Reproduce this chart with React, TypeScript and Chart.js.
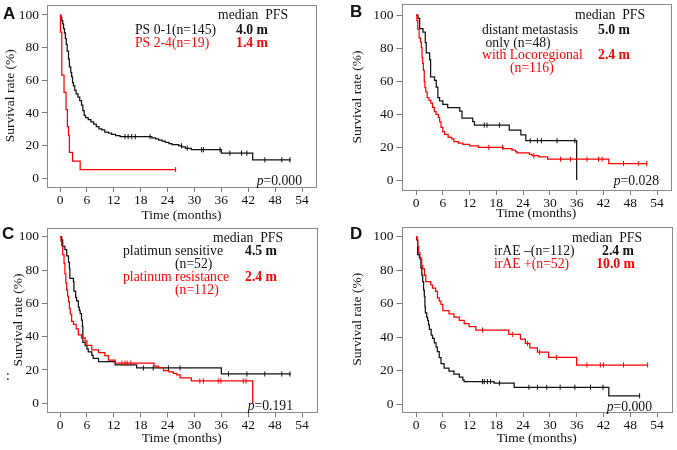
import React, { useEffect, useRef } from "react";
import { Chart, registerables } from "chart.js";
Chart.register(...registerables);

type Pt = [number, number];

const xTicks = [0, 6, 12, 18, 24, 30, 36, 42, 48, 54];
const yTicks = [0, 20, 40, 60, 80, 100];

// Panel A: PS 0-1 (black) vs PS 2-4 (red)
const psGoodKm: Pt[] = [[0,100],[0.2,98.6],[0.4,96.5],[0.6,94.5],[0.8,91.7],[1.0,89],[1.2,85.5],[1.4,82],[1.6,77.9],[1.9,73],[2.1,68.3],[2.4,64.8],[2.6,62.1],[2.8,58.6],[3.0,56.6],[3.3,53.8],[3.6,51.7],[4.0,49.7],[4.4,47.6],[4.8,44.8],[5.1,41.4],[5.4,38.6],[5.7,37.2],[6.3,35.9],[6.9,34.5],[7.5,33.1],[8.1,31.7],[8.7,30.3],[9.3,29.7],[10.0,28.3],[10.8,27.6],[11.5,26.9],[12.4,26.2],[13.4,25.5],[20.5,24.8],[21.3,24.1],[22.0,23.4],[22.8,22.7],[23.5,22.0],[24.3,21.3],[25.0,20.6],[26.5,19.9],[27.2,19.2],[28.0,18.4],[29.3,17.5],[36.0,15.4],[43.0,11.3],[51.5,11.3]];
const psGoodCens = [14.5,15.2,16.0,16.8,20.1,27.1,28.4,31.6,32.0,35.7,37.9,40.5,41.7,45.7,49.5,51.3];
const psPoorKm: Pt[] = [[0,100],[0.1,89.5],[0.4,63.2],[0.9,52.6],[1.35,42.1],[1.65,31.6],[1.9,26.3],[2.1,15.8],[2.8,10.5],[4.5,5.3],[25.8,5.3]];
const psPoorCens = [25.8];

// Panel B: distant metastasis only (black) vs with locoregional (red)
const distantKm: Pt[] = [[0,100],[0.45,97.9],[0.82,91.7],[1.56,89.6],[2.08,83.3],[2.3,77.1],[3.05,72.9],[3.27,62.5],[4.16,60.4],[4.54,56.3],[4.9,50],[5.28,47.9],[6.02,45.8],[7.1,43.8],[9.8,41.7],[10.3,37.5],[12.7,35.4],[13.1,33.3],[20.9,30.3],[23.5,27.3],[24.6,23.8],[36,0]];
const distantCens = [15.3,15.9,18.7,25.6,27.2,28.1,31.6,35.6];
const locoKm: Pt[] = [[0,100],[0.2,96.6],[0.4,91.4],[0.7,86.2],[1.0,83.6],[1.2,80.2],[1.35,74.1],[1.5,70.7],[1.65,66.4],[1.85,59.5],[2.0,56],[2.2,53.4],[2.5,50],[2.9,48.3],[3.3,46.6],[3.7,44],[4.1,41.4],[4.5,39.7],[5.0,37.9],[5.3,35.3],[5.6,31.9],[6.0,29.3],[6.4,27.6],[7.2,25.9],[8.0,25],[8.5,23.3],[9.5,22.4],[10.5,21.6],[12.0,20.7],[14.0,19.8],[19.6,19.0],[21.5,18.1],[22.3,17.2],[22.6,16.4],[25.4,15.5],[26.0,14.7],[27.5,14.0],[29.5,12.6],[43.2,10.0],[51.8,10.0]];
const locoCens = [16.3,19.4,26.4,32.4,34.6,38.3,40.9,41.7,46.5,49.8,51.7];

// Panel C: platinum sensitive (black) vs platinum resistance (red)
const sensKm: Pt[] = [[0,100],[0.37,98.1],[0.6,94.2],[1.1,92.3],[1.5,88.5],[1.9,84.6],[2.1,80.8],[2.2,75],[3.0,73.1],[3.1,67.3],[3.5,63.5],[3.7,61.5],[4.1,57.7],[4.3,55.8],[4.5,53.8],[4.8,50],[5.0,46.2],[5.1,36.5],[5.6,34.6],[6.0,32.7],[6.3,30.8],[7.1,28.8],[7.4,26.9],[8.6,25],[12.3,23.1],[17.1,21.2],[36.0,17.6],[51.5,17.6]];
const sensCens = [18.6,20.8,24.2,26.8,37.6,41.7,45.7,49.5,51.3];
const resistKm: Pt[] = [[0,100],[0.2,97.3],[0.37,94.6],[0.6,89.3],[0.9,84],[1.1,77.7],[1.3,72.3],[1.5,68],[1.7,64.3],[1.9,61],[2.1,57],[2.3,53.6],[2.6,49.1],[3.0,47.3],[3.6,44.6],[4.1,41.1],[4.8,39.3],[5.6,37.5],[6.0,34.8],[7.1,32.1],[8.6,30.4],[10.0,28.6],[10.8,25.9],[12.3,24.1],[21.0,22.3],[22.0,21.4],[23.1,19.6],[24.3,18.8],[25.3,17.9],[26.0,17],[26.8,15.2],[29.3,13.4],[43.0,0]];
const resistCens = [13.8,14.5,15.0,15.8,31.2,32.0,35.3,35.9,40.9,41.5];

// Panel D: irAE - (black) vs irAE + (red)
const irNegKm: Pt[] = [[0,100],[0.15,98.2],[0.37,89.3],[0.74,87.5],[1.1,81.3],[1.3,77],[1.5,73.2],[1.7,68],[1.86,64.3],[2.0,58],[2.1,54.5],[2.4,51.8],[2.6,50],[2.8,47.3],[3.0,44.6],[3.4,41.1],[3.7,39.3],[4.1,36.6],[4.5,34],[4.8,31.3],[5.2,27.7],[5.6,24.1],[6.3,21.4],[7.4,19.6],[8.5,17.9],[9.7,16.1],[10.5,14.3],[10.8,13.4],[17.5,12.5],[22.0,10],[43.2,4.9],[50.1,4.9]];
const irNegCens = [14.9,15.3,16.0,16.7,18.7,25.3,27.2,29.3,32.3,35.6,39.1,41.9,50.1];
const irPosKm: Pt[] = [[0,100],[0.2,98],[0.4,94.2],[0.6,90.4],[0.9,86.5],[1.3,82.7],[1.5,80.8],[1.9,76.9],[2.2,73.1],[3.3,71.2],[3.7,69.2],[4.4,67.3],[4.8,63.5],[5.2,61.5],[5.6,59.6],[6.0,55.8],[7.4,53.8],[8.5,51.9],[9.7,50.0],[10.8,48.1],[11.9,46.2],[13.4,44.2],[20.8,41.6],[23.4,38.8],[24.5,36.2],[25.5,33.6],[27.2,31.0],[29.7,27.9],[36.0,23.3],[51.9,23.3]];
const irPosCens = [14.9,21.6,25.0,27.7,31.5,38.3,41.3,42.0,46.5,51.9];

const BLACK = "#111111";
const RED = "#ff0000";
const SERIF = '"Liberation Serif", "Times New Roman", serif';
const TXT = 13.7;

interface Txt { t: string; x: number; y: number; align?: "left" | "right"; red?: boolean; bold?: boolean }
interface Series { km: Pt[]; cens: number[]; color: string }
interface PanelCfg {
  letter: string; letterX: number; letterY: number;
  cx: number; cy: number; w: number; h: number;
  L: number; R: number; T: number; B: number;
  x0: number; x54: number; y100: number; y0: number;
  yTitleX: number; xTitleY: number;
  series: Series[];
  texts: Txt[];
  pText: string; pX: number; pY: number;
}

const panels: PanelCfg[] = [
  {
    letter: "A", letterX: 3, letterY: 18.5,
    cx: 0, cy: 0, w: 338, h: 225,
    L: 47, R: 316, T: 4.5, B: 187, x0: 60, x54: 302, y100: 15, y0: 178.3,
    yTitleX: 10, xTitleY: 215,
    series: [
      { km: psPoorKm, cens: psPoorCens, color: RED },
      { km: psGoodKm, cens: psGoodCens, color: BLACK },
    ],
    texts: [
      { t: "median  PFS", x: 288, y: 15.3, align: "right" },
      { t: "PS 0-1(n=145)", x: 135, y: 30 },
      { t: "4.0 m", x: 268, y: 30, align: "right", bold: true },
      { t: "PS 2-4(n=19)", x: 135, y: 43.3, red: true },
      { t: "1.4 m", x: 268, y: 43.3, align: "right", bold: true, red: true },
    ],
    pText: "=0.000", pX: 302, pY: 181,
  },
  {
    letter: "B", letterX: 12, letterY: 17,
    cx: 338, cy: 0, w: 339, h: 225,
    L: 63.5, R: 333, T: 4, B: 190, x0: 78, x54: 319, y100: 15, y0: 180,
    yTitleX: 19, xTitleY: 213,
    series: [
      { km: locoKm, cens: locoCens, color: RED },
      { km: distantKm, cens: distantCens, color: BLACK },
    ],
    texts: [
      { t: "median  PFS", x: 307, y: 15.3, align: "right" },
      { t: "distant metastasis", x: 144, y: 30 },
      { t: "5.0 m", x: 292, y: 30, align: "right", bold: true },
      { t: "only (n=48)", x: 147.5, y: 43.3 },
      { t: "with Locoregional", x: 144, y: 55, red: true },
      { t: "2.4 m", x: 292, y: 55, align: "right", bold: true, red: true },
      { t: "(n=116)", x: 172, y: 68.7, red: true },
    ],
    pText: "=0.028", pX: 321, pY: 181.5,
  },
  {
    letter: "C", letterX: 2, letterY: 13.5,
    cx: 0, cy: 225, w: 338, h: 225,
    L: 47, R: 316.5, T: 2.5, B: 187.3, x0: 60, x54: 302, y100: 11.7, y0: 178.3,
    yTitleX: 18, xTitleY: 213.3,
    series: [
      { km: resistKm, cens: resistCens, color: RED },
      { km: sensKm, cens: sensCens, color: BLACK },
    ],
    texts: [
      { t: "median  PFS", x: 283, y: 13.3, align: "right" },
      { t: "platimun sensitive", x: 123, y: 26 },
      { t: "4.5 m", x: 277, y: 26, align: "right", bold: true },
      { t: "(n=52)", x: 175, y: 39 },
      { t: "platinum resistance", x: 123, y: 52.3, red: true },
      { t: "2.4 m", x: 277, y: 52.3, align: "right", bold: true, red: true },
      { t: "(n=112)", x: 175, y: 65.7, red: true },
      { t: ":", x: 6, y: 151.5 },
    ],
    pText: "=0.191", pX: 293, pY: 181,
  },
  {
    letter: "D", letterX: 12, letterY: 14,
    cx: 338, cy: 225, w: 339, h: 225,
    L: 63.5, R: 334, T: 1.7, B: 187, x0: 78, x54: 319, y100: 11.7, y0: 179,
    yTitleX: 19, xTitleY: 213.3,
    series: [
      { km: irPosKm, cens: irPosCens, color: RED },
      { km: irNegKm, cens: irNegCens, color: BLACK },
    ],
    texts: [
      { t: "median  PFS", x: 304, y: 13.3, align: "right" },
      { t: "irAE \u2013(n=112)", x: 156, y: 26 },
      { t: "2.4 m", x: 296, y: 26, align: "right", bold: true },
      { t: "irAE +(n=52)", x: 156, y: 39.3, red: true },
      { t: "10.0 m", x: 297, y: 39.3, align: "right", bold: true, red: true },
    ],
    pText: "=0.000", pX: 314, pY: 182.5,
  },
];

function survAt(km: Pt[], t: number): number {
  let s = km[0][1];
  for (const [x, y] of km) if (x <= t) s = y;
  return s;
}

function makeConfig(p: PanelCfg): any {
  const ppm = (p.x54 - p.x0) / 54;
  const ppp = (p.y0 - p.y100) / 100;
  const xMin = -(p.x0 - p.L) / ppm;
  const xMax = 54 + (p.R - p.x54) / ppm;
  const yMin = -(p.B - p.y0) / ppp;
  const yMax = 100 + (p.y100 - p.T) / ppp;
  const axisFont = { family: SERIF, size: 13.5, lineHeight: 1.2 };
  const LH = 13.5 * 1.2;

  const datasets: any[] = [];
  p.series.forEach((s) => {
    datasets.push({
      data: s.km.map(([x, y]) => ({ x, y })),
      borderColor: s.color,
      borderWidth: 1.25,
      stepped: "before",
      pointRadius: 0,
      pointHoverRadius: 0,
      fill: false,
    });
    datasets.push({
      data: s.cens.map((t) => ({ x: t, y: survAt(s.km, t) })),
      showLine: false,
      borderColor: s.color,
      backgroundColor: s.color,
      pointStyle: "line",
      pointRotation: 90,
      pointRadius: 2.6,
      pointHoverRadius: 2.6,
      pointBorderWidth: 1,
      pointBorderColor: s.color,
    });
  });

  const decor = {
    id: "decor",
    beforeDatasetsDraw(chart: any) {
      const { ctx, chartArea: a } = chart;
      ctx.save();
      ctx.strokeStyle = "#8a8a8a";
      ctx.lineWidth = 1;
      const l = Math.round(a.left) + 0.5, t = Math.round(a.top) + 0.5;
      const r = Math.round(a.right) + 0.5, b = Math.round(a.bottom) + 0.5;
      ctx.strokeRect(l, t, r - l, b - t);
      ctx.restore();
    },
    afterDraw(chart: any) {
      const ctx = chart.ctx;
      ctx.save();
      ctx.textBaseline = "middle";
      for (const t of p.texts) {
        ctx.font = `${t.bold ? "bold " : ""}${TXT}px ${SERIF}`;
        ctx.fillStyle = t.red ? RED : BLACK;
        ctx.textAlign = t.align === "right" ? "right" : "left";
        ctx.fillText(t.t, t.x, t.y);
      }
      ctx.textAlign = "right";
      ctx.fillStyle = BLACK;
      ctx.font = `${TXT}px ${SERIF}`;
      ctx.fillText(p.pText, p.pX, p.pY);
      const wv = ctx.measureText(p.pText).width;
      ctx.font = `italic ${TXT}px ${SERIF}`;
      ctx.fillText("p", p.pX - wv, p.pY);
      ctx.font = 'bold 17px "Liberation Sans", Arial, sans-serif';
      ctx.textAlign = "left";
      ctx.textBaseline = "alphabetic";
      ctx.fillText(p.letter, p.letterX, p.letterY);
      ctx.restore();
    },
  };

  return {
    type: "line",
    data: { datasets },
    options: {
      responsive: false,
      maintainAspectRatio: false,
      animation: false,
      devicePixelRatio: 1,
      events: [],
      layout: { autoPadding: false, padding: { left: 0, top: p.T, right: p.w - p.R, bottom: 0 } },
      plugins: { legend: { display: false }, tooltip: { enabled: false } },
      scales: {
        x: {
          type: "linear",
          position: "bottom",
          min: xMin,
          max: xMax,
          afterBuildTicks: (sc: any) => { sc.ticks = xTicks.map((v) => ({ value: v })); },
          afterFit: (sc: any) => {
            sc.height = p.h - p.B;
            sc.paddingLeft = 0; sc.paddingRight = 0; sc.paddingTop = 0; sc.paddingBottom = 0;
          },
          grid: { display: true, drawOnChartArea: false, drawTicks: true, tickLength: 5, color: "#7a7a7a", lineWidth: 1 },
          border: { display: false },
          ticks: { font: axisFont, color: BLACK, padding: 0, autoSkip: false, maxRotation: 0, minRotation: 0, callback: (v: any) => String(v) },
          title: { display: true, text: "Time (months)", font: axisFont, color: BLACK, padding: { top: 0, bottom: p.h - p.xTitleY - LH / 2 } },
        },
        y: {
          type: "linear",
          position: "left",
          min: yMin,
          max: yMax,
          afterBuildTicks: (sc: any) => { sc.ticks = yTicks.map((v) => ({ value: v })); },
          afterFit: (sc: any) => {
            sc.width = p.L;
            sc.paddingLeft = 0; sc.paddingRight = 0; sc.paddingTop = 0; sc.paddingBottom = 0;
          },
          grid: { display: true, drawOnChartArea: false, drawTicks: true, tickLength: 5, color: "#7a7a7a", lineWidth: 1 },
          border: { display: false },
          ticks: { font: axisFont, color: BLACK, padding: 3, autoSkip: false, callback: (v: any) => String(v) },
          title: { display: true, text: "Survival rate (%)", font: axisFont, color: BLACK, padding: { top: p.yTitleX - LH / 2, bottom: 0 } },
        },
      },
    },
    plugins: [decor],
  };
}

function Panel({ cfg }: { cfg: PanelCfg }) {
  const ref = useRef<HTMLCanvasElement>(null);
  useEffect(() => {
    const chart = new Chart(ref.current as HTMLCanvasElement, makeConfig(cfg));
    return () => chart.destroy();
  }, [cfg]);
  return (
    <canvas
      ref={ref}
      width={cfg.w}
      height={cfg.h}
      style={{ position: "absolute", left: cfg.cx, top: cfg.cy, width: cfg.w, height: cfg.h }}
    />
  );
}

export default function App() {
  return (
    <div style={{ position: "fixed", left: 0, top: 0, width: 677, height: 450, background: "#ffffff", overflow: "hidden" }}>
      {panels.map((p) => (
        <Panel key={p.letter} cfg={p} />
      ))}
    </div>
  );
}
